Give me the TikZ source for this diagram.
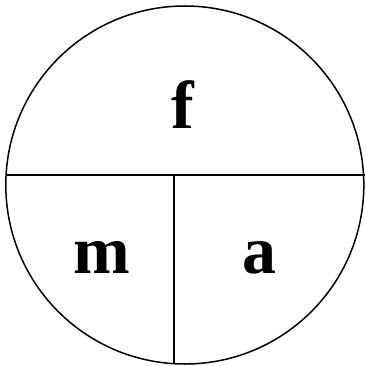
\documentclass[tikz,border=0pt]{standalone}
\usepackage{fontspec}
\setmainfont{Liberation Serif}
\usetikzlibrary{calc}

\begin{document}
\begin{tikzpicture}[
    x=1pt, y=-1pt,
    part/.style={font=\fontsize{68}{68}\selectfont\bfseries, anchor=base, inner sep=0pt},
    rim/.style={circle, draw, line width=1.5pt, minimum size=358pt, inner sep=0pt},
    cut/.style={line width=2pt}
]
\useasboundingbox (0,0) rectangle (365,366);

% Circle
\node[rim] (whole) at (184.8,185) {};

% Dividing lines
\coordinate (cutL) at (6.1,174.5);
\coordinate (cutR) at (364.5,174.5);
\coordinate (cutM) at (173.5,174.5);
\coordinate (cutB) at (173.5,364);
\draw[cut] (cutL) -- (cutR);
\draw[cut] (cutM) -- (cutB);

% Labels
\node[part] (f) at (183,129) {f};
\node[part] (m) at (101.7,273.3) {m};
\node[part] (a) at (259.5,273.3) {a};
\end{tikzpicture}
\end{document}
